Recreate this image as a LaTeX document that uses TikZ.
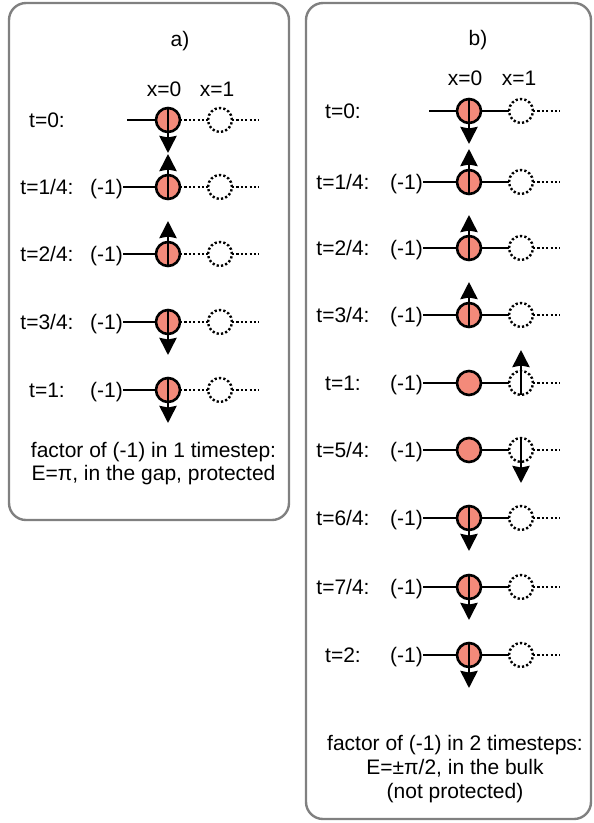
\documentclass[tikz,border=0pt]{standalone}
\usepackage{fontspec}
\setmainfont{Liberation Sans}
\usetikzlibrary{arrows.meta}
\definecolor{salmon}{RGB}{243,138,122}
\definecolor{boxgray}{RGB}{128,128,128}
\begin{document}
\begin{tikzpicture}[x=1pt,y=-1pt, font=\fontsize{21}{24}\selectfont,
  site/.style={circle, draw, line width=2.6pt, fill=salmon, minimum size=24pt, inner sep=0pt, outer sep=0pt},
  empty/.style={circle, draw, line width=2.4pt, dash pattern=on 2.2pt off 2.2pt, minimum size=24pt, inner sep=0pt, outer sep=0pt},
  bond/.style={line width=2.4pt},
  dotbond/.style={line width=2.4pt, dash pattern=on 2.2pt off 2.2pt},
  spin/.style={line width=2.8pt, -{Triangle[width=17pt,length=17pt,inset=1.5pt]}},
  panel/.style={draw=boxgray, line width=2.4pt, rounded corners=17pt},
  lbl/.style={anchor=base, inner sep=0pt}]
\useasboundingbox (0,0) rectangle (594,823);
% panels
\draw[panel] (9,3) rectangle (289,520);
\draw[panel] (306,3) rectangle (591,819);
% ---------- panel a ----------
\node[lbl] (ahead) at (180,46) {a)};
\node[lbl] (ax0) at (164,96) {x=0};
\node[lbl] (ax1) at (217,96) {x=1};
\foreach \i/\y/\t/\d in {0/120/{t=0:}/d, 1/187/{t=1/4:}/u, 2/254/{t=2/4:}/u, 3/322/{t=3/4:}/d, 4/390/{t=1:}/d}{
  \node[lbl] (at\i) at (47,\y+7.5) {\t};
  \node[site] (aS\i) at (168,\y) {};
  \node[empty] (aE\i) at (220,\y) {};
  \coordinate (aR\i) at (259,\y);
  \draw[dotbond] (aS\i) -- (aE\i);
  \draw[dotbond] (aE\i) -- (aR\i);
  \if\d d
    \draw[spin] (aS\i.north) -- ++(0,45);
  \else
    \draw[spin] (aS\i.south) -- ++(0,-45);
  \fi
}
\coordinate (aL0) at (127,120);
\draw[bond] (aL0) -- (aS0);
\foreach \i/\y in {1/187,2/254,3/322,4/390}{
  \node[lbl, anchor=base east] (am\i) at (123,\y+7.5) {(-1)};
  \draw[bond] (am\i.east |- aS\i) -- (aS\i);
}
\node[lbl] (afoot1) at (153.5,457) {factor of (-1) in 1 timestep:};
\node[lbl] (afoot2) at (153.5,480) {E=π, in the gap, protected};
% ---------- panel b ----------
\node[lbl] (bhead) at (478,45) {b)};
\node[lbl] (bx0) at (465,85) {x=0};
\node[lbl] (bx1) at (519,85) {x=1};
\foreach \i/\y/\t/\d in {0/111/{t=0:}/d, 1/182/{t=1/4:}/u, 2/248/{t=2/4:}/u, 3/315/{t=3/4:}/u, 4/383/{t=1:}/n, 5/450/{t=5/4:}/n, 6/518/{t=6/4:}/d, 7/587/{t=7/4:}/d, 8/655/{t=2:}/d}{
  \node[lbl] (bt\i) at (343,\y+7.5) {\t};
  \node[site] (bS\i) at (469,\y) {};
  \node[empty] (bE\i) at (521,\y) {};
  \coordinate (bR\i) at (560,\y);
  \draw[bond] (bS\i) -- (bE\i);
  \draw[dotbond] (bE\i) -- (bR\i);
  \if\d d
    \draw[spin] (bS\i.north) -- ++(0,45);
  \fi
  \if\d u
    \draw[spin] (bS\i.south) -- ++(0,-45);
  \fi
}
\draw[spin] (bE4.south) -- ++(0,-45);
\draw[spin] (bE5.north) -- ++(0,45);
\coordinate (bL0) at (429,111);
\draw[bond] (bL0) -- (bS0);
\foreach \i/\y in {1/182,2/248,3/315,4/383,5/450,6/518,7/587,8/655}{
  \node[lbl, anchor=base east] (bm\i) at (423,\y+7.5) {(-1)};
  \draw[bond] (bm\i.east |- bS\i) -- (bS\i);
}
\node[lbl] (bfoot1) at (455,750) {factor of (-1) in 2 timesteps:};
\node[lbl] (bfoot2) at (455,774) {E=±π/2, in the bulk};
\node[lbl] (bfoot3) at (455,798) {(not protected)};
\end{tikzpicture}
\end{document}
